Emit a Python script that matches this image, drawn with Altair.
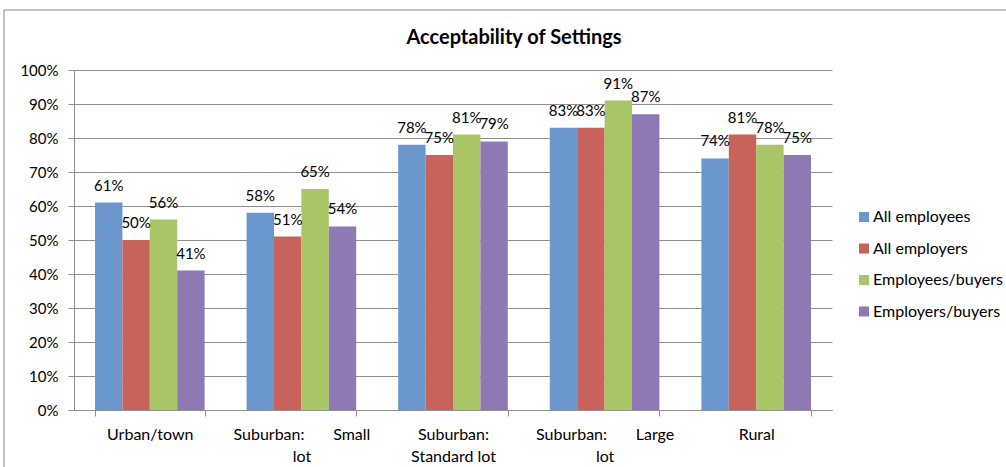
import altair as alt
import pandas as pd

# ---- data ----
categories = ["Urban/town", "Suburban: Small lot", "Suburban: Standard lot",
              "Suburban: Large lot", "Rural"]
series = ["All employees", "All employers", "Employees/buyers", "Employers/buyers"]
all_employees = [61, 58, 78, 83, 74]
all_employers = [50, 51, 75, 83, 81]
employees_buyers = [56, 65, 81, 91, 78]
employers_buyers = [41, 54, 79, 87, 75]
y_ticks = [0, 10, 20, 30, 40, 50, 60, 70, 80, 90, 100]

NB = "\u00a0"
tick_labels = [
    ["Urban/town"],
    ["Suburban:" + NB * 7 + "Small", "lot"],
    ["Suburban:", "Standard lot"],
    ["Suburban:" + NB * 7 + "Large", "lot"],
    ["Rural"],
]
colors = ["#6A97CD", "#C8635B", "#A8C666", "#8F79B4"]

FONT = "Lato"
GRAY = "#8f8f8f"
FS = 15

values_by_series = [all_employees, all_employers, employees_buyers, employers_buyers]
rows = []
for s, vals in zip(series, values_by_series):
    for c, v in zip(categories, vals):
        rows.append({"category": c, "series": s, "value": v / 100})
df = pd.DataFrame(rows)

# label expression for multi-line category labels
expr = "''"
for c, lab in reversed(list(zip(categories, tick_labels))):
    arr = "[" + ",".join("'" + t + "'" for t in lab) + "]"
    expr = f"datum.value === '{c}' ? {arr} : ({expr})"

x_enc = alt.X(
    "category:N", sort=categories, title=None,
    scale=alt.Scale(paddingInner=0.277, paddingOuter=0.1385),
    axis=alt.Axis(labelExpr=expr, labelAngle=0, labelFont=FONT, labelFontSize=16,
                  labelColor="#000000", labelLineHeight=22, labelPadding=10,
                  tickBand="extent", tickSize=6, tickColor=GRAY, domainColor=GRAY,
                  grid=False, labelBaseline="top"),
)
xoff_enc = alt.XOffset("series:N", sort=series,
                       scale=alt.Scale(paddingInner=0, paddingOuter=0))
y_enc = alt.Y(
    "value:Q", title=None,
    scale=alt.Scale(domain=[0, 1], nice=False),
    axis=alt.Axis(values=[t / 100 for t in y_ticks], format=".0%", labelFont=FONT,
                  labelFontSize=FS, labelColor="#000000", labelPadding=10,
                  tickSize=6, tickColor=GRAY, domainColor=GRAY,
                  grid=True, gridColor=GRAY, gridWidth=1),
)

base = alt.Chart(df).encode(x=x_enc, xOffset=xoff_enc, y=y_enc)

bars = base.mark_bar().encode(
    color=alt.Color(
        "series:N", sort=series,
        scale=alt.Scale(domain=series, range=colors),
        legend=alt.Legend(title=None, orient="none", legendX=782, legendY=139,
                          symbolType="square", symbolSize=100, symbolStrokeWidth=0,
                          labelFont=FONT, labelFontSize=16, labelColor="#000000",
                          rowPadding=15.5, labelOffset=1),
    )
)

labels = base.mark_text(dy=-17, baseline="middle", font=FONT, fontSize=FS,
                        color="#000000").encode(
    text=alt.Text("value:Q", format=".0%")
)

border = alt.Chart(alt.Data(values=[{"a": 1}])).mark_rect(
    fillOpacity=0, stroke="#888888", strokeWidth=1
).encode(
    x=alt.value(-70), x2=alt.value(945), y=alt.value(-60), y2=alt.value(410)
)

chart = alt.layer(border, bars, labels).properties(
    width=758, height=340,
    title=alt.TitleParams("Acceptability of Settings", font=FONT, fontSize=20,
                          fontWeight="bold", anchor="middle", dx=61, offset=-38,
                          color="#000000"),
    autosize=alt.AutoSizeParams(type="none"),
    padding={"left": 74, "top": 70, "right": 174, "bottom": 57},
).configure_view(stroke=None)

chart.save("out.html", embed_options={"renderer": "svg", "actions": False})
